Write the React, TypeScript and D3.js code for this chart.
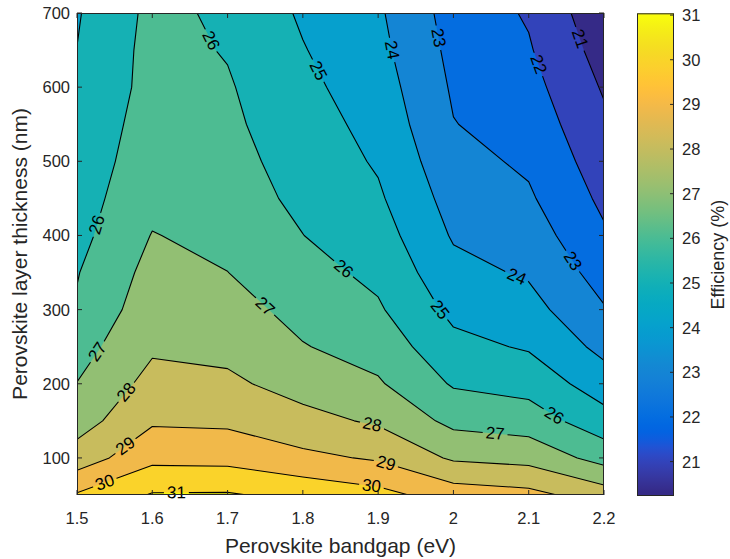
import React from "react";
import * as d3 from "d3";

// ---------- data ----------
const bandgaps = [1.5, 1.6, 1.7, 1.8, 1.9, 2.0, 2.1, 2.2];
const thicknesses = [50, 100, 150, 200, 250, 300, 350, 400, 450, 500, 550, 600, 650, 700];
// efficiency (%) for each bandgap column, thickness 50 -> 700 nm
const effBg150 = [30.1, 28.45, 27.55, 27.02, 26.6, 26.1, 25.95, 25.7, 25.58, 25.45, 25.3, 25.15, 25.01, 24.92];
const effBg160 = [31.08, 29.73, 28.87, 28.33, 27.85, 27.6, 27.32, 27.04, 26.71, 26.53, 26.43, 26.32, 26.32, 26.25];
const effBg170 = [31.1, 29.68, 28.81, 28.18, 27.74, 27.37, 27.01, 26.72, 26.4, 26.31, 26.19, 26.09, 25.94, 25.83];
const effBg180 = [30.72, 29.24, 28.3, 27.63, 27.05, 26.69, 26.34, 26.01, 25.81, 25.62, 25.43, 25.24, 25.05, 24.87];
const effBg190 = [30.32, 28.88, 27.86, 27.11, 26.6, 26.12, 25.77, 25.45, 25.14, 24.89, 24.69, 24.48, 24.28, 24.14];
const effBg200 = [29.53, 27.86, 26.73, 25.9, 25.28, 24.75, 24.3, 23.9, 23.61, 23.32, 23.03, 22.88, 22.74, 22.6];
const effBg210 = [29.3, 27.67, 26.5, 25.63, 24.9, 24.36, 23.88, 23.5, 23.13, 22.84, 22.59, 22.34, 22.09, 21.9];
const effBg220 = [28.5, 26.63, 25.39, 24.48, 23.72, 23.07, 22.59, 22.13, 21.79, 21.49, 21.19, 20.9, 20.6, 20.3];
const effColumns = [effBg150, effBg160, effBg170, effBg180, effBg190, effBg200, effBg210, effBg220];

const contourLevels = [21, 22, 23, 24, 25, 26, 27, 28, 29, 30, 31];
const xTicks = [1.5, 1.6, 1.7, 1.8, 1.9, 2, 2.1, 2.2];
const yTicks = [100, 200, 300, 400, 500, 600, 700];
const cbarTicks = [21, 22, 23, 24, 25, 26, 27, 28, 29, 30, 31];
const colorLimits = [20.23, 31.04];

// contour label anchors: level, bandgap, thickness
const labelLevels = [26, 25, 24, 23, 22, 21, 26, 27, 28, 29, 30, 31, 27, 26, 25, 24, 23, 28, 29, 30, 27, 26];
const labelBandgaps = [1.674, 1.816, 1.918, 1.966, 2.111, 2.17, 1.528, 1.533, 1.57, 1.568, 1.539, 1.632, 1.743, 1.849, 1.976, 2.082, 2.153, 1.891, 1.909, 1.891, 2.055, 2.13];
const labelThicknesses = [661, 620, 650, 664, 630, 666, 414, 239, 185, 111, 61, 51, 297, 349, 295, 340, 362, 140, 88, 61, 129, 151];

// parula colormap (64)
const parula = [
  [0.2081, 0.1663, 0.5292], [0.2116, 0.1898, 0.5777], [0.2123, 0.2138, 0.627], [0.2081, 0.2386, 0.6771],
  [0.1959, 0.2645, 0.7279], [0.1707, 0.2919, 0.7792], [0.1253, 0.3242, 0.8303], [0.0591, 0.3598, 0.8683],
  [0.0117, 0.3875, 0.882], [0.006, 0.4086, 0.8828], [0.0165, 0.4266, 0.8786], [0.0329, 0.443, 0.872],
  [0.0498, 0.4586, 0.8641], [0.0629, 0.4737, 0.8554], [0.0723, 0.4887, 0.8467], [0.0779, 0.504, 0.8384],
  [0.0793, 0.52, 0.8312], [0.0749, 0.5375, 0.8263], [0.0641, 0.557, 0.824], [0.0488, 0.5772, 0.8228],
  [0.0343, 0.5966, 0.8199], [0.0265, 0.6137, 0.8135], [0.0239, 0.6287, 0.8038], [0.0231, 0.6418, 0.7913],
  [0.0228, 0.6535, 0.7768], [0.0267, 0.6642, 0.7607], [0.0384, 0.6743, 0.7436], [0.059, 0.6838, 0.7254],
  [0.0843, 0.6928, 0.7062], [0.1133, 0.7015, 0.6859], [0.1453, 0.7098, 0.6646], [0.1801, 0.7177, 0.6424],
  [0.2178, 0.725, 0.6193], [0.2586, 0.7317, 0.5954], [0.3022, 0.7376, 0.5712], [0.3482, 0.7424, 0.5473],
  [0.3953, 0.7459, 0.5244], [0.442, 0.7481, 0.5033], [0.4871, 0.7491, 0.484], [0.53, 0.7491, 0.4661],
  [0.5709, 0.7485, 0.4494], [0.6099, 0.7473, 0.4337], [0.6473, 0.7456, 0.4188], [0.6834, 0.7435, 0.4044],
  [0.7184, 0.7411, 0.3905], [0.7525, 0.7384, 0.3768], [0.7858, 0.7356, 0.3633], [0.8185, 0.7327, 0.3498],
  [0.8507, 0.7299, 0.336], [0.8824, 0.7274, 0.3217], [0.9139, 0.7258, 0.3063], [0.945, 0.7261, 0.2886],
  [0.9739, 0.7314, 0.2666], [0.9938, 0.7455, 0.2403], [0.999, 0.7653, 0.2164], [0.9955, 0.7861, 0.1967],
  [0.988, 0.8066, 0.1794], [0.9789, 0.8271, 0.1633], [0.9697, 0.8481, 0.1475], [0.9626, 0.8705, 0.1309],
  [0.9589, 0.8949, 0.1132], [0.9598, 0.9218, 0.0948], [0.9661, 0.9514, 0.0755], [0.9763, 0.9831, 0.0538],
];

const FONT = "'Liberation Sans', Arial, Helvetica, sans-serif";
const AX = "#262626";

const hexOf = (c: number[]) => d3.rgb(c[0] * 255, c[1] * 255, c[2] * 255).formatHex();

function colorOf(v: number) {
  const [cmin, cmax] = colorLimits;
  const idx = Math.max(0, Math.min(63, Math.floor(((v - cmin) / (cmax - cmin)) * 64)));
  return hexOf(parula[idx]);
}

export default function App() {
  const W = 730, H = 559;
  const pl = { left: 77, right: 604, top: 13, bottom: 495 };
  const x = d3.scaleLinear().domain([1.5, 2.2]).range([pl.left, pl.right]);
  const y = d3.scaleLinear().domain([50, 700]).range([pl.bottom, pl.top]);

  const nx = bandgaps.length, ny = thicknesses.length;
  const values: number[] = new Array(nx * ny);
  for (let j = 0; j < ny; j++) for (let i = 0; i < nx; i++) values[j * nx + i] = effColumns[i][j];

  const gx = d3.scaleLinear().domain([0.5, nx - 0.5]).range([x(bandgaps[0]), x(bandgaps[nx - 1])]);
  const gy = d3.scaleLinear().domain([0.5, ny - 0.5]).range([y(thicknesses[0]), y(thicknesses[ny - 1])]);

  const contours = d3.contours().size([nx, ny]).thresholds(contourLevels)(values);

  const ringsPx = contours.map((c) =>
    c.coordinates.map((poly) => poly.map((ring) => ring.map(([a, b]) => [gx(a), gy(b)] as [number, number])))
  );
  const pathOf = (k: number) =>
    ringsPx[k]
      .map((poly) => poly.map((ring) => "M" + ring.map((p) => p[0].toFixed(2) + "," + p[1].toFixed(2)).join("L") + "Z").join(""))
      .join("");

  const tol = 0.6;
  const inside = (p: [number, number]) =>
    p[0] >= pl.left - tol && p[0] <= pl.right + tol && p[1] >= pl.top - tol && p[1] <= pl.bottom + tol;
  const segsByLevel: Record<number, [number, number, number, number][]> = {};
  contours.forEach((c, k) => {
    const segs: [number, number, number, number][] = [];
    ringsPx[k].forEach((poly) =>
      poly.forEach((ring) => {
        for (let i = 0; i < ring.length - 1; i++) {
          const a = ring[i], b = ring[i + 1];
          if (inside(a) && inside(b)) {
            const onEdge =
              (Math.abs(a[0] - b[0]) < 0.01 && (Math.abs(a[0] - pl.left) < tol || Math.abs(a[0] - pl.right) < tol)) ||
              (Math.abs(a[1] - b[1]) < 0.01 && (Math.abs(a[1] - pl.top) < tol || Math.abs(a[1] - pl.bottom) < tol));
            if (!onEdge) segs.push([a[0], a[1], b[0], b[1]]);
          }
        }
      })
    );
    segsByLevel[c.value] = segs;
  });

  const fs = 17;
  const labels = labelLevels.map((lv, i) => {
    const ax = x(labelBandgaps[i]), ay = y(labelThicknesses[i]);
    let best = { d: Infinity, px: ax, py: ay, ang: 0 };
    (segsByLevel[lv] || []).forEach(([x1, y1, x2, y2]) => {
      const dx = x2 - x1, dy = y2 - y1;
      const L2 = dx * dx + dy * dy;
      if (L2 < 1e-9) return;
      let t = ((ax - x1) * dx + (ay - y1) * dy) / L2;
      t = Math.max(0, Math.min(1, t));
      const px = x1 + t * dx, py = y1 + t * dy;
      const d = Math.hypot(px - ax, py - ay);
      if (d < best.d) {
        let ang = (Math.atan2(dy, dx) * 180) / Math.PI;
        if (ang > 90) ang -= 180;
        if (ang <= -90) ang += 180;
        best = { d, px, py, ang };
      }
    });
    const text = String(lv);
    const w = text.length * 0.556 * fs + 6;
    return { text, w, h: fs * 0.95, ...best };
  });

  const [cmin, cmax] = colorLimits;
  const cb = { left: 637, right: 674, top: 13.3, bottom: 496 };
  const cy = d3.scaleLinear().domain([cmin, cmax]).range([cb.bottom, cb.top]);

  return (
    <svg width={W} height={H} style={{ position: "absolute", left: 0, top: 0, background: "#fff" }} fontFamily={FONT}>
      <defs>
        <clipPath id="plotclip">
          <rect x={pl.left} y={pl.top} width={pl.right - pl.left} height={pl.bottom - pl.top} />
        </clipPath>
        <linearGradient id="cbgrad" x1="0" y1="1" x2="0" y2="0">
          {parula.map((c, i) => (
            <stop key={i} offset={(i + 0.5) / 64} stopColor={hexOf(c)} />
          ))}
        </linearGradient>
        <mask id="lblmask" maskUnits="userSpaceOnUse" x={0} y={0} width={W} height={H}>
          <rect x={0} y={0} width={W} height={H} fill="white" />
          {labels.map((l, i) => (
            <rect key={i} x={-l.w / 2} y={-l.h / 2} width={l.w} height={l.h} fill="black"
              transform={`translate(${l.px},${l.py}) rotate(${l.ang})`} />
          ))}
        </mask>
      </defs>
      <rect width={W} height={H} fill="#fff" />
      <g clipPath="url(#plotclip)">
        <rect x={pl.left} y={pl.top} width={pl.right - pl.left} height={pl.bottom - pl.top} fill={colorOf(cmin)} />
        {contours.map((c, k) => (
          <path key={k} d={pathOf(k)} fill={colorOf(c.value)} stroke="none" />
        ))}
        <g mask="url(#lblmask)">
          {contours.map((c, k) => (
            <path key={k} d={pathOf(k)} fill="none" stroke="#000" strokeWidth={1.1} strokeLinejoin="round" />
          ))}
        </g>
      </g>
      {labels.map((l, i) => (
        <text key={i} transform={`translate(${l.px},${l.py}) rotate(${l.ang})`} textAnchor="middle"
          dominantBaseline="central" fontSize={fs} fill="#000">{l.text}</text>
      ))}
      {/* axes frame and ticks */}
      <rect x={pl.left + 0.5} y={pl.top + 0.5} width={pl.right - pl.left - 1} height={pl.bottom - pl.top - 1}
        fill="none" stroke={AX} strokeWidth={1} />
      {xTicks.map((t) => (
        <g key={"xt" + t}>
          <line x1={x(t)} x2={x(t)} y1={pl.bottom} y2={pl.bottom - 5} stroke={AX} />
          <line x1={x(t)} x2={x(t)} y1={pl.top} y2={pl.top + 5} stroke={AX} />
          <text x={x(t)} y={pl.bottom + 29} textAnchor="middle" fontSize={16.5} fill={AX}>{String(t)}</text>
        </g>
      ))}
      {yTicks.map((t) => (
        <g key={"yt" + t}>
          <line x1={pl.left} x2={pl.left + 5} y1={y(t)} y2={y(t)} stroke={AX} />
          <line x1={pl.right} x2={pl.right - 5} y1={y(t)} y2={y(t)} stroke={AX} />
          <text x={pl.left - 7} y={y(t)} textAnchor="end" dominantBaseline="central" fontSize={16.5} fill={AX}>{String(t)}</text>
        </g>
      ))}
      <text x={(pl.left + pl.right) / 2} y={553} textAnchor="middle" fontSize={21} fill={AX}>Perovskite bandgap (eV)</text>
      <text transform={`translate(27,${(pl.top + pl.bottom) / 2}) rotate(-90)`} textAnchor="middle" fontSize={21} fill={AX}>
        Perovskite layer thickness (nm)
      </text>
      {/* colorbar */}
      <rect x={cb.left} y={cb.top} width={cb.right - cb.left} height={cb.bottom - cb.top} fill="url(#cbgrad)" />
      <rect x={cb.left + 0.5} y={cb.top + 0.5} width={cb.right - cb.left - 1} height={cb.bottom - cb.top - 1}
        fill="none" stroke={AX} strokeWidth={1} />
      {cbarTicks.map((t) => (
        <g key={"ct" + t}>
          <line x1={cb.right} x2={cb.right - 4} y1={cy(t)} y2={cy(t)} stroke={AX} />
          <text x={cb.right + 8} y={cy(t)} dominantBaseline="central" fontSize={16.5} fill={AX}>{String(t)}</text>
        </g>
      ))}
      <text transform={`translate(724,${(cb.top + cb.bottom) / 2}) rotate(-90)`} textAnchor="middle" fontSize={18}
        fill={AX}>Efficiency (%)</text>
    </svg>
  );
}
